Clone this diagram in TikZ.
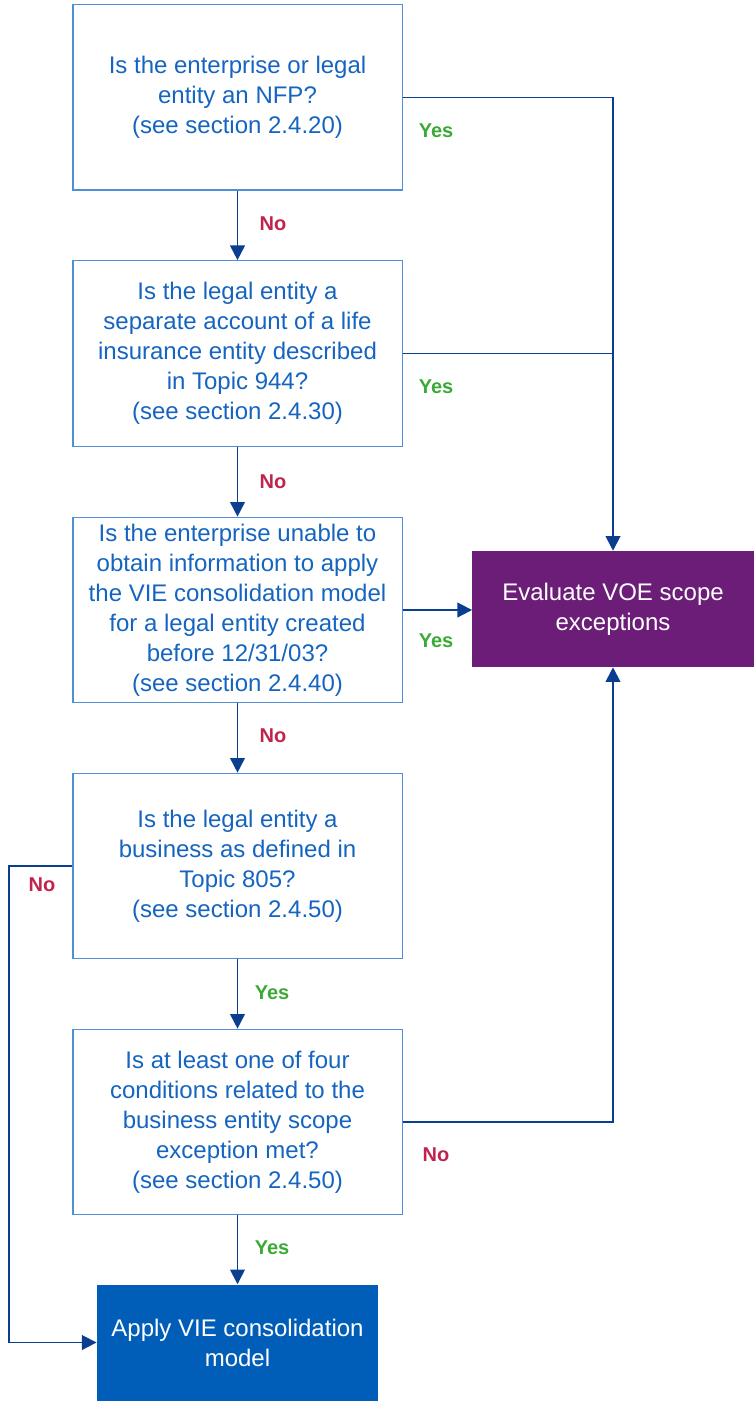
\documentclass[tikz,border=0pt]{standalone}
\usepackage{fontspec}
\setmainfont{Liberation Sans}
\usetikzlibrary{arrows.meta, positioning}

\definecolor{qblue}{HTML}{1565C0}
\definecolor{qframe}{HTML}{4F8FD6}
\definecolor{connblue}{HTML}{0B3D91}
\definecolor{voepurple}{HTML}{6C1D78}
\definecolor{vieblue}{HTML}{005EB8}
\definecolor{yesgreen}{HTML}{3AAA35}
\definecolor{nored}{HTML}{C0244E}

\begin{document}
\begin{tikzpicture}[x=0.75pt, y=-0.75pt,
    question/.style = {draw=qframe, line width=1pt, minimum width=247pt, minimum height=139pt,
                       align=center, text=qblue, font=\fontsize{18}{22.5}\selectfont, inner sep=0pt},
    result/.style = {minimum width=211pt, minimum height=87pt, align=center, text=white,
                     font=\fontsize{18}{22.5}\selectfont, inner sep=0pt},
    conn/.style = {draw=connblue, line width=1.4pt},
    arr/.style = {conn, -{Triangle[length=11pt, width=11pt]}},
    yes/.style = {text=yesgreen, font=\fontsize{15}{15}\bfseries\selectfont},
    no/.style = {text=nored, font=\fontsize{15}{15}\bfseries\selectfont}]

    \useasboundingbox (0,0) rectangle (755,1401);

    % questions
    \node (q1) [question] at (237.5, 97.5) {Is the enterprise or legal\\entity an NFP?\\(see section 2.4.20)};
    \node (q2) [question] at (237.5, 353.5) {Is the legal entity a\\separate account of a life\\insurance entity described\\in Topic 944?\\(see section 2.4.30)};
    \node (q3) [question] at (237.5, 610) {Is the enterprise unable to\\obtain information to apply\\the VIE consolidation model\\for a legal entity created\\before 12/31/03?\\(see section 2.4.40)};
    \node (q4) [question] at (237.5, 866) {Is the legal entity a\\business as defined in\\Topic 805?\\(see section 2.4.50)};
    \node (q5) [question] at (237.5, 1122) {Is at least one of four\\conditions related to the\\business entity scope\\exception met?\\(see section 2.4.50)};

    % outcomes
    \node (voe) [result, fill=voepurple] at (613, 609) {Evaluate VOE scope\\exceptions};
    \node (vie) [result, fill=vieblue] at (237.5, 1342.5) {Apply VIE consolidation\\model};

    \coordinate (lft) at (9, 866);

    % down the chain
    \foreach \from / \to in {q1/q2, q2/q3, q3/q4, q4/q5, q5/vie}
        \draw [arr] (\from.south) -- (\to.north);

    \draw [arr] (q1.east) -| (voe.north);
    \draw [conn] (q2.east) -- (q2.east -| voe.north);
    \draw [arr] (q3.east) -- (q3.east -| voe.west);
    \draw [arr] (q5.east) -| (voe.south);
    \draw [arr] (q4.west) -- (lft) |- (vie.west);

    % labels
    \foreach \y in {224, 482, 736}
        \node [no] at (273, \y) {No};
    \foreach \y in {131, 387, 641}
        \node [yes] at (436, \y) {Yes};
    \foreach \y in {993, 1248}
        \node [yes] at (272, \y) {Yes};
    \node [no] at (42, 885) {No};
    \node [no] at (436, 1155) {No};

\end{tikzpicture}
\end{document}
